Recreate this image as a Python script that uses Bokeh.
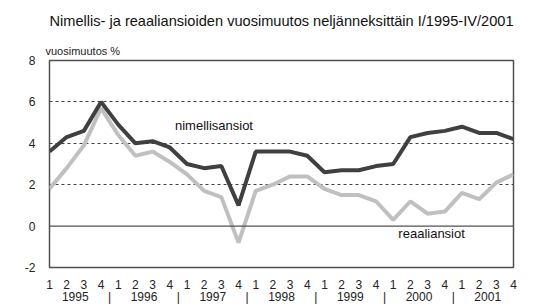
from bokeh.plotting import figure
from bokeh.models import FixedTicker, LinearAxis, Range1d, Title, Span
from bokeh.embed import file_html
from bokeh.resources import INLINE
from bokeh.core.properties import value

title_text = "Nimellis- ja reaaliansioiden vuosimuutos neljänneksittäin I/1995-IV/2001"
y_title = "vuosimuutos %"
years = ["1995", "1996", "1997", "1998", "1999", "2000", "2001"]
quarters = ["1", "2", "3", "4"]
y_ticks = [-2, 0, 2, 4, 6, 8]
y_tick_labels = ["-2", "0", "2", "4", "6", "8"]
nimellis = [3.6, 4.3, 4.6, 6.0, 4.9, 4.0, 4.1, 3.8,
            3.0, 2.8, 2.9, 1.0, 3.6, 3.6, 3.6, 3.4,
            2.6, 2.7, 2.7, 2.9, 3.0, 4.3, 4.5, 4.6,
            4.8, 4.5, 4.5, 4.2]
reaali = [1.8, 2.8, 3.9, 5.7, 4.4, 3.4, 3.6, 3.1,
          2.5, 1.7, 1.4, -0.8, 1.7, 2.0, 2.4, 2.4,
          1.8, 1.5, 1.5, 1.2, 0.3, 1.2, 0.6, 0.7,
          1.6, 1.3, 2.1, 2.5]
label_nim = "nimellisansiot"
label_rea = "reaaliansiot"

FONT = "Liberation Sans"
n = len(nimellis)
xs = list(range(n))

p = figure(width=554, height=306, output_backend="svg", toolbar_location=None,
           x_range=Range1d(0, n - 1), y_range=Range1d(-2, 8),
           min_border_left=49, min_border_right=41, min_border_bottom=0, min_border_top=0)
p.title = None
p.outline_line_color = "#505050"
p.outline_line_width = 1.5
p.background_fill_color = "white"
p.border_fill_color = "white"

t2 = Title(text=y_title, text_font=FONT, text_font_size="11px", text_font_style="normal",
           text_color="#222222", align="left", offset=-4, standoff=7)
p.add_layout(t2, "above")
t1 = Title(text=title_text, text_font=FONT, text_font_size="14.6px", text_font_style="normal",
           text_color="#111111", align="center", standoff=21)
p.add_layout(t1, "above")

# grid
p.xgrid.visible = False
p.ygrid.ticker = FixedTicker(ticks=[2, 4, 6])
p.ygrid.grid_line_color = "#404040"
p.ygrid.grid_line_dash = "3 3"
p.ygrid.grid_line_width = 1
p.add_layout(Span(location=0, dimension="width", line_color="#505050", line_width=1.2))

# axes
p.yaxis.ticker = FixedTicker(ticks=y_ticks)
p.yaxis.major_label_overrides = dict(zip(y_ticks, y_tick_labels))
p.yaxis.axis_line_color = None
p.yaxis.major_tick_line_color = None
p.yaxis.minor_tick_line_color = None
p.yaxis.major_tick_out = 0
p.yaxis.major_tick_in = 0
p.yaxis.major_label_text_font = FONT
p.yaxis.major_label_text_font_size = "12px"
p.yaxis.major_label_text_color = "#222222"
p.yaxis.major_label_standoff = 14

p.xaxis.ticker = FixedTicker(ticks=xs)
p.xaxis.major_label_overrides = {i: quarters[i % 4] for i in xs}
p.xaxis.axis_line_color = None
p.xaxis.major_tick_line_color = None
p.xaxis.minor_tick_line_color = None
p.xaxis.major_tick_out = 0
p.xaxis.major_tick_in = 0
p.xaxis.major_label_text_font = FONT
p.xaxis.major_label_text_font_size = "12px"
p.xaxis.major_label_text_color = "#222222"
p.xaxis.major_label_standoff = 12

ticks2 = []
over2 = {}
for k, yr in enumerate(years):
    c = 4 * k + 1.5
    ticks2.append(c)
    over2[c] = yr
    if k < len(years) - 1:
        s = 4 * k + 3.5
        ticks2.append(s)
        over2[s] = "|"
ax2 = LinearAxis(ticker=FixedTicker(ticks=ticks2), major_label_overrides=over2,
                 axis_line_color=None, major_tick_line_color=None, minor_tick_line_color=None,
                 major_tick_out=0, major_tick_in=0,
                 major_label_text_font=FONT, major_label_text_font_size="12px",
                 major_label_text_color="#222222", major_label_standoff=-2)
p.add_layout(ax2, "below")

p.line(xs, reaali, line_color="#c0c0c0", line_width=4)
p.line(xs, nimellis, line_color="#404040", line_width=4)

p.text(x=[7.3], y=[4.85], text=[label_nim], text_font=value(FONT), text_font_size="13px",
       text_baseline="middle", text_align="left", text_color="#111111")
p.text(x=[20.3], y=[-0.34], text=[label_rea], text_font=value(FONT), text_font_size="13px",
       text_baseline="middle", text_align="left", text_color="#111111")

open("out.html", "w").write(file_html(p, INLINE))
